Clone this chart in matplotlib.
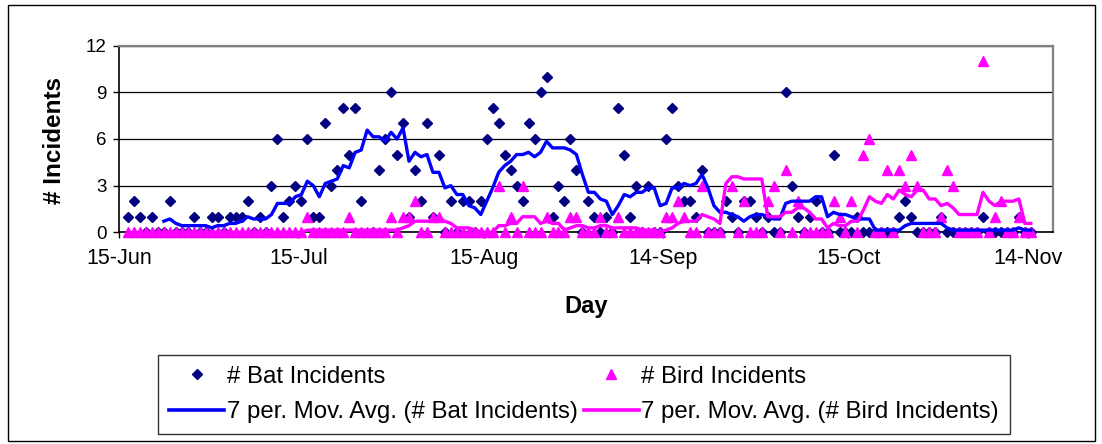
import numpy as np
import pandas as pd
import matplotlib
matplotlib.use("Agg")
import matplotlib.pyplot as plt
from matplotlib.lines import Line2D
from matplotlib.patches import Rectangle

plt.rcParams["font.family"] = ["Liberation Sans", "DejaVu Sans"]

# days counted from 15-Jun; days not listed had 0 incidents
n_days = 152
bat_days = [1, 2, 3, 5, 8, 12, 15, 16, 18, 19, 20, 21, 23, 25, 26, 27, 28, 29, 30, 31,
            32, 33, 34, 35, 36, 37, 38, 39, 40, 41, 43, 44, 45, 46, 47, 48, 49, 50, 51, 52,
            53, 55, 57, 58, 60, 61, 62, 63, 64, 65, 66, 67, 68, 69, 70, 71, 72, 73, 74, 75,
            76, 78, 79, 81, 83, 84, 85, 86, 88, 91, 92, 93, 94, 95, 96, 97, 101, 102, 104, 105,
            106, 108, 111, 112, 113, 115, 116, 119, 123, 130, 131, 132, 137, 144, 150]
bat_counts = [1, 2, 1, 1, 2, 1, 1, 1, 1, 1, 1, 2, 1, 3, 6, 1, 2, 3, 2, 6,
              1, 1, 7, 3, 4, 8, 5, 8, 2, 16, 4, 6, 9, 5, 7, 1, 4, 2, 7, 1,
              5, 2, 2, 2, 2, 6, 8, 7, 5, 4, 3, 2, 7, 6, 9, 10, 1, 3, 2, 6,
              4, 2, 1, 1, 8, 5, 1, 3, 3, 6, 8, 3, 2, 2, 1, 4, 2, 1, 2, 2,
              1, 1, 9, 3, 1, 1, 2, 5, 1, 1, 2, 1, 1, 1, 1]
bird_days = [31, 38, 45, 47, 48, 49, 52, 53, 63, 65, 67, 71, 75, 76, 80, 83, 91, 92, 93, 94,
             97, 101, 102, 104, 108, 109, 111, 113, 119, 120, 122, 124, 125, 128, 130, 131,
             132, 133, 137, 138, 139, 144, 146, 147, 150]
bird_counts = [1, 1, 1, 1, 1, 2, 1, 1, 3, 1, 3, 1, 1, 1, 1, 1, 1, 1, 2, 1,
               3, 19, 3, 2, 2, 3, 4, 2, 2, 1, 2, 5, 6, 4, 4, 3,
               5, 3, 1, 4, 3, 11, 1, 2, 1]

tick_pos = [0, 30, 61, 91, 122, 152]
tick_lbl = ["15-Jun", "15-Jul", "15-Aug", "14-Sep", "15-Oct", "14-Nov"]

day = np.arange(1, n_days + 1)
bat = pd.Series(0, index=day)
bat[bat_days] = bat_counts
bird = pd.Series(0, index=day)
bird[bird_days] = bird_counts

# Excel style 7 period trailing moving average
bat_ma = bat.rolling(7).mean()
bird_ma = bird.rolling(7).mean()

x = day + 0.5

fig = plt.figure(figsize=(11.02, 4.44), dpi=100)
ax = fig.add_axes([0.108, 0.4768, 0.8475, 0.4203])

# clip only at the top (values above 12 are not shown), keep markers at 0 whole
clip = Rectangle((-0.05, -0.2), 1.1, 1.2, transform=ax.transAxes, visible=False)
ax.add_patch(clip)

l1, = ax.plot(x, bat.values, ls="none", marker="D", ms=5.0, color="#000080", zorder=3)
l2, = ax.plot(x, bird.values, ls="none", marker="^", ms=6.8, color="#FF00FF", zorder=4)
for ln in (l1, l2):
    ln.set_clip_path(clip)
ax.plot(x, bat_ma.values, color="#0000FF", lw=2.4, zorder=5)
ax.plot(x, bird_ma.values, color="#FF00FF", lw=2.4, zorder=6)

ax.set_xlim(0, 156.2)
ax.set_ylim(0, 12)
ax.set_yticks([0, 3, 6, 9, 12])
ax.set_xticks(tick_pos)
ax.set_xticklabels(tick_lbl)
ax.tick_params(axis="both", direction="out", length=4, width=1, color="black")
ax.tick_params(axis="x", labelsize=15.5, pad=7)
ax.tick_params(axis="y", labelsize=13.5, pad=5)
ax.yaxis.grid(True, color="black", lw=0.9)
ax.set_axisbelow(True)
for s in ("left", "bottom"):
    ax.spines[s].set_color("black")
    ax.spines[s].set_linewidth(1.2)
for s in ("top", "right"):
    ax.spines[s].set_color("#808080")
    ax.spines[s].set_linewidth(1.6)

ax.set_xlabel("Day", fontsize=17, fontweight="bold")
ax.xaxis.set_label_coords(0.5, -0.40)
ax.xaxis.label.set_va("center")
ax.set_ylabel("# Incidents", fontsize=17.5, fontweight="bold")
ax.yaxis.set_label_coords(-0.0696, 0.49)
ax.yaxis.label.set_va("center")

handles = [
    Line2D([], [], ls="none", marker="D", ms=5.0, color="#000080"),
    Line2D([], [], color="#0000FF", lw=2.6),
    Line2D([], [], ls="none", marker="^", ms=6.8, color="#FF00FF"),
    Line2D([], [], color="#FF00FF", lw=2.6),
]
labels = ["# Bat Incidents", "7 per. Mov. Avg. (# Bat Incidents)",
          "# Bird Incidents", "7 per. Mov. Avg. (# Bird Incidents)"]
leg = fig.legend(handles, labels, ncol=2, loc="center", bbox_to_anchor=(0.530, 0.1115),
                 fontsize=17.3, frameon=True, fancybox=False, edgecolor="black",
                 handlelength=2.3, handletextpad=0.1, columnspacing=0.25, labelspacing=0.55,
                 borderpad=0.45, borderaxespad=0)
leg.get_frame().set_linewidth(1.0)

fig.patches.append(Rectangle((8 / 1102, 3 / 444), 1087 / 1102, 436 / 444,
                             transform=fig.transFigure, fill=False, edgecolor="black", lw=1.0))

fig.savefig("out.png", dpi=100)
